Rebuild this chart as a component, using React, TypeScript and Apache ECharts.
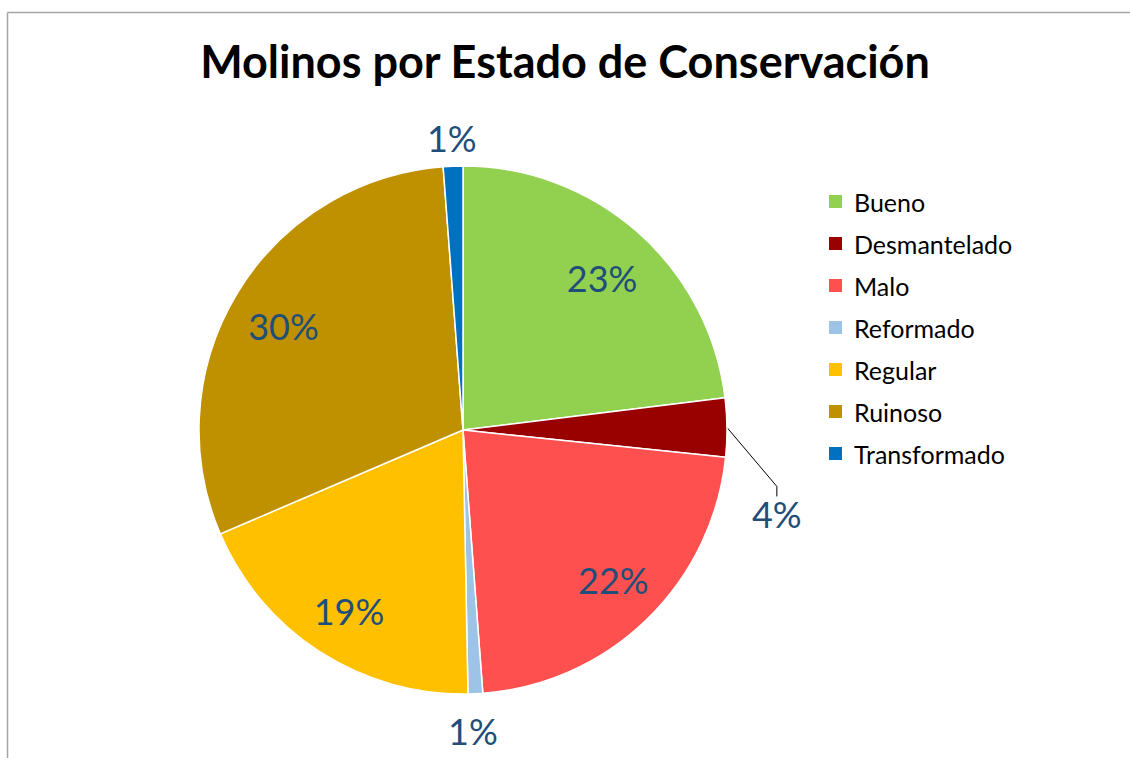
import React, { useEffect, useRef } from "react";
import * as echarts from "echarts";

const TITLE = "Molinos por Estado de Conservación";
const categories = ["Bueno", "Desmantelado", "Malo", "Reformado", "Regular", "Ruinoso", "Transformado"];
const values = [77, 12, 74, 3, 63, 101, 4];
const colors = ["#92D050", "#990000", "#FF5050", "#9DC3E6", "#FFC000", "#BF9000", "#0070C0"];
// which slices carry their label inside the pie, which outside
const insideLabel = [true, false, true, false, true, true, false];
const ringLabel = [false, false, false, true, false, false, true];

const FONT = "Lato, 'Open Sans', sans-serif";
const LABEL_COLOR = "#1F4E79";

export default function App() {
  const ref = useRef<HTMLDivElement>(null);
  useEffect(() => {
    if (!ref.current) return;
    const chart = echarts.init(ref.current, undefined, { renderer: "svg" });
    const total = values.reduce((a, b) => a + b, 0);
    const pct = (p: any) => Math.round((p.value / total) * 100) + "%";
    const center = [463, 430];

    const mainData = categories.map((name, i) => ({
      name,
      value: values[i],
      itemStyle: { color: colors[i] },
      label: { show: i === 1 },
      labelLine: { show: i === 1 },
    }));
    const innerData = categories.map((name, i) => ({
      name,
      value: values[i],
      label: { show: insideLabel[i] },
    }));
    const ringData = categories.map((name, i) => ({
      name,
      value: values[i],
      label: { show: ringLabel[i] },
    }));

    const labelStyle = {
      formatter: pct,
      fontFamily: FONT,
      fontSize: 36,
      color: LABEL_COLOR,
    };
    // small optical nudge for the glyph baseline of the font
    const nudge = (params: any) =>
      params.dataIndex === 2 ? { dx: 4, dy: -1 } : params.dataIndex === 3 ? { dx: -4, dy: 4 } : { dy: 5 };

    chart.setOption({
      animation: false,
      backgroundColor: "#ffffff",
      title: {
        text: TITLE,
        left: "center",
        top: 33,
        textStyle: { fontFamily: FONT, fontWeight: "bold", fontSize: 45, color: "#000000" },
      },
      legend: {
        orient: "vertical",
        left: 822,
        top: 184,
        itemWidth: 15,
        itemHeight: 15,
        itemGap: 17,
        icon: "rect",
        data: categories,
        textStyle: { fontFamily: FONT, fontSize: 25, color: "#000000", padding: [0, 0, 0, 6] },
      },
      graphic: [
        { type: "line", shape: { x1: 7.5, y1: 12.5, x2: 1130, y2: 12.5 }, style: { stroke: "#A6A6A6", lineWidth: 1.5 } },
        { type: "line", shape: { x1: 7.5, y1: 12.5, x2: 7.5, y2: 758 }, style: { stroke: "#A6A6A6", lineWidth: 1.5 } },
      ],
      series: [
        {
          type: "pie",
          center,
          radius: [0, 264],
          startAngle: 90,
          clockwise: true,
          avoidLabelOverlap: false,
          silent: true,
          itemStyle: { borderColor: "#ffffff", borderWidth: 1.5 },
          label: { position: "outside", ...labelStyle },
          labelLine: { length: 10, length2: 10, lineStyle: { color: "#000000", width: 1 } },
          labelLayout: (params: any) => {
            if (params.dataIndex === 1) {
              return {
                x: params.labelRect.x,
                y: params.labelRect.y + params.labelRect.height / 2 + 87,
              };
            }
            return {};
          },
          emphasis: { disabled: true },
          data: mainData,
        },
        {
          type: "pie",
          center,
          radius: [150, 264],
          startAngle: 90,
          clockwise: true,
          silent: true,
          avoidLabelOverlap: false,
          itemStyle: { color: "rgba(0,0,0,0)", borderWidth: 0 },
          label: { position: "inside", ...labelStyle },
          labelLine: { show: false },
          labelLayout: nudge,
          emphasis: { disabled: true },
          data: innerData,
        },
        {
          type: "pie",
          center,
          radius: [282, 306],
          startAngle: 90,
          clockwise: true,
          silent: true,
          avoidLabelOverlap: false,
          itemStyle: { color: "rgba(0,0,0,0)", borderWidth: 0 },
          label: { position: "inside", ...labelStyle },
          labelLine: { show: false },
          labelLayout: nudge,
          emphasis: { disabled: true },
          data: ringData,
        },
      ],
    });
    return () => chart.dispose();
  }, []);
  return (
    <div
      ref={ref}
      style={{ position: "absolute", left: 0, top: 0, width: 1130, height: 758 }}
    />
  );
}
